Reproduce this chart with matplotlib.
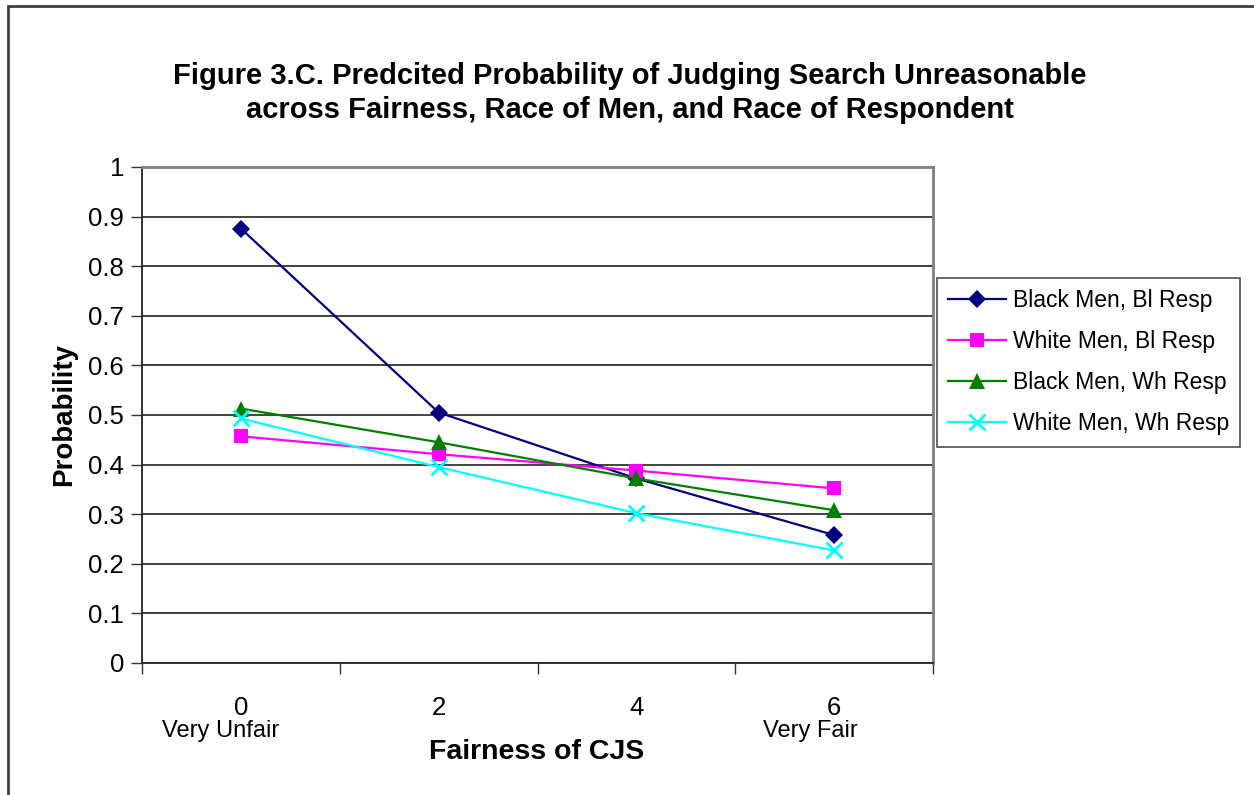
import matplotlib
matplotlib.use("Agg")
import matplotlib.pyplot as plt
from matplotlib.patches import Rectangle
from matplotlib.transforms import blended_transform_factory

plt.rcParams['font.family'] = ['Liberation Sans', 'DejaVu Sans']

categories = ["0", "2", "4", "6"]
sub_labels = ["Very Unfair", "", "", "Very Fair"]
series_names = ["Black Men, Bl Resp", "White Men, Bl Resp",
                "Black Men, Wh Resp", "White Men, Wh Resp"]
black_bl = [0.876, 0.505, 0.372, 0.258]
white_bl = [0.457, 0.421, 0.388, 0.352]
black_wh = [0.513, 0.445, 0.372, 0.308]
white_wh = [0.493, 0.395, 0.302, 0.227]
yticks = [0, 0.1, 0.2, 0.3, 0.4, 0.5, 0.6, 0.7, 0.8, 0.9, 1]

colors = ["#000080", "#FF00FF", "#008000", "#00FFFF"]
markers = ["D", "s", "^", "x"]
msizes = [9.5, 10.5, 11, 11]

W, H = 1254, 795
fig = plt.figure(figsize=(W / 100, H / 100), dpi=100)
fig.patch.set_facecolor("white")

# figure frame (left and top visible)
fig.patches.append(Rectangle((8 / W, -0.05), 1.2, 1 - 6 / H + 0.05,
                             transform=fig.transFigure, fill=False,
                             edgecolor="#404040", linewidth=2))

ax = fig.add_axes([142 / W, 1 - 663 / H, (933 - 142) / W, (663 - 167) / H])
x = list(range(len(categories)))
for vals, name, c, m, ms in zip([black_bl, white_bl, black_wh, white_wh],
                                series_names, colors, markers, msizes):
    kw = dict(markeredgewidth=2) if m == "x" else dict(markeredgewidth=0)
    ax.plot(x, vals, color=c, marker=m, markersize=ms, linewidth=1.6,
            markerfacecolor=c, markeredgecolor=c, label=name, **kw)

ax.set_xlim(-0.5, len(categories) - 0.5)
ax.set_ylim(0, 1)
ax.set_yticks(yticks)
ax.set_yticklabels([f"{v:g}" for v in yticks])
ax.yaxis.grid(True, color="#222222", linewidth=1.2)
ax.set_axisbelow(True)
ax.tick_params(axis="y", length=8, width=1, labelsize=18.5, pad=5, color="#333333")

ax.set_xticks(x)
ax.set_xticklabels(categories)
ax.tick_params(axis="x", which="major", length=0, labelsize=18.5, pad=24)
ax.set_xticks([i - 0.5 for i in range(len(categories) + 1)], minor=True)
ax.tick_params(axis="x", which="minor", length=8, width=1, color="#333333")

trans = blended_transform_factory(ax.transData, fig.transFigure)
offsets = [-0.1, 0, 0, -0.12]
for i, s in enumerate(sub_labels):
    if s:
        ax.text(i + offsets[i], 1 - 731 / H, s, transform=trans, ha="center",
                va="center", fontsize=17)

for side in ["left", "bottom"]:
    ax.spines[side].set_color("#222222")
    ax.spines[side].set_linewidth(1.3)
for side in ["top", "right"]:
    ax.spines[side].set_color("#808080")
    ax.spines[side].set_linewidth(2)

ax.set_ylabel("Probability", fontsize=20, fontweight="bold", labelpad=8)
fig.text(537 / W, 1 - 752 / H, "Fairness of CJS", ha="center", va="center",
         fontsize=20.5, fontweight="bold")

fig.text(630 / W, 1 - 93 / H,
         "Figure 3.C. Predcited Probability of Judging Search Unreasonable\n"
         "across Fairness, Race of Men, and Race of Respondent",
         ha="center", va="center", fontsize=21, fontweight="bold",
         linespacing=1.3)

leg = ax.legend(loc="upper left", bbox_to_anchor=(937 / W, 1 - 278 / H),
                bbox_transform=fig.transFigure, fontsize=16.5, frameon=True,
                fancybox=False, edgecolor="#222222", borderpad=0.5,
                labelspacing=0.78, handlelength=2.5, handletextpad=0.3,
                borderaxespad=0)
leg.get_frame().set_linewidth(1.2)

fig.savefig("out.png", dpi=100)
